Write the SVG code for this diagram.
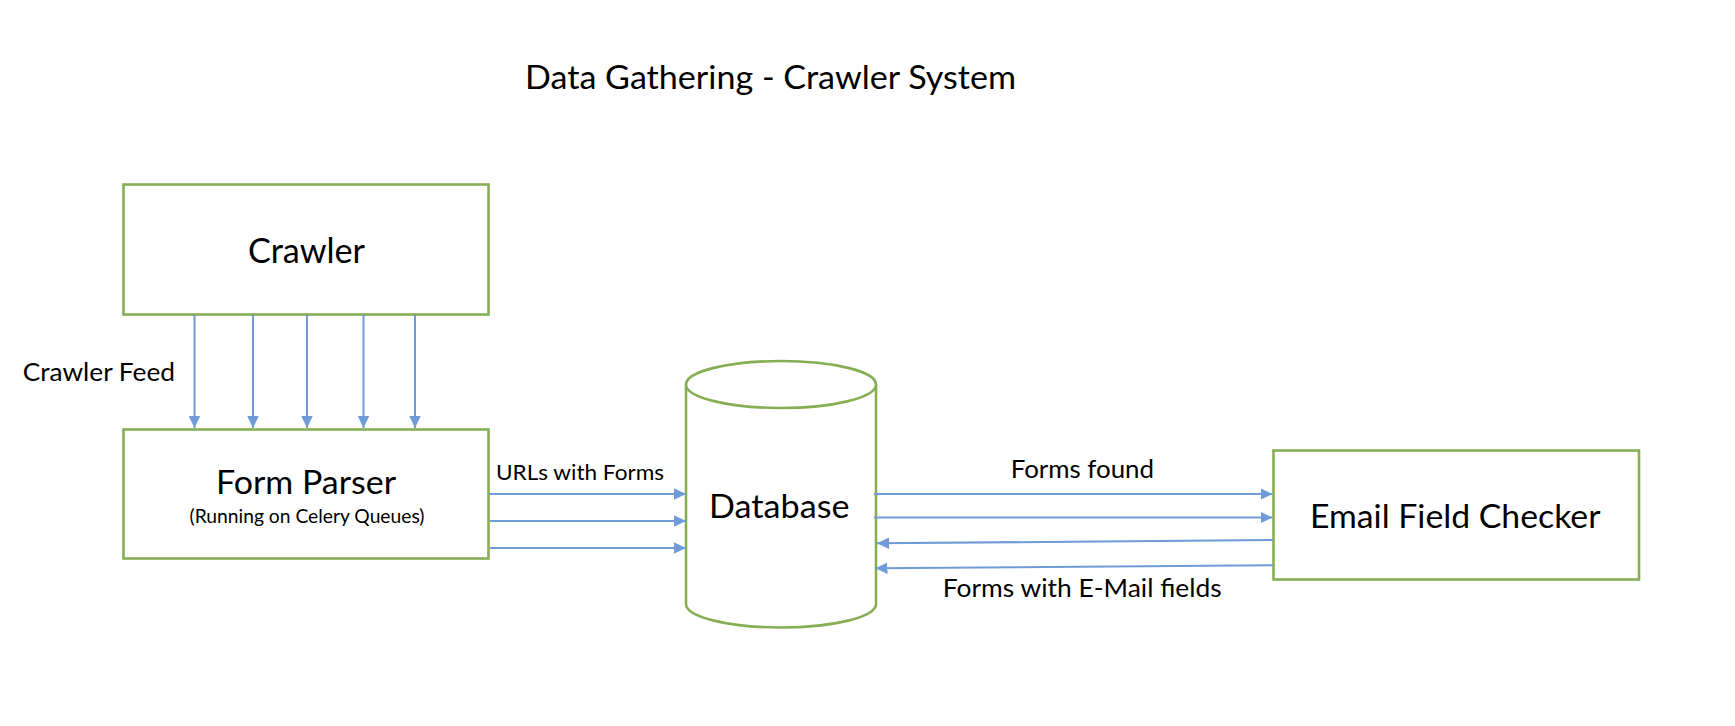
<svg xmlns="http://www.w3.org/2000/svg" width="1735" height="726" viewBox="0 0 1735 726">
<style>
.box{fill:#ffffff;stroke:#86ae54;stroke-width:2.6}
.t{font-family:Lato,"Liberation Sans",sans-serif;fill:#000000}
.c{fill:none;stroke:#6f9bd8;stroke-width:2}
</style>
<defs>
<marker id="ah" markerUnits="userSpaceOnUse" markerWidth="12" markerHeight="12" refX="12" refY="5.75" orient="auto">
<path d="M0,0 L12,5.75 L0,11.5 Z" fill="#6f9bd8"/>
</marker>
</defs>
<rect width="1735" height="726" fill="#ffffff"/>
<text id="title" class="t" x="525" y="89" font-size="33" textLength="491" lengthAdjust="spacingAndGlyphs">Data Gathering - Crawler System</text>
<g id="crawler">
<rect class="box" x="123.5" y="184.5" width="365" height="130"/>
<text class="t" x="248" y="263" font-size="34" textLength="117" lengthAdjust="spacingAndGlyphs">Crawler</text>
</g>
<g id="form-parser">
<rect class="box" x="123.5" y="429.5" width="365" height="129"/>
<text class="t" x="216" y="494" font-size="32.5" textLength="180" lengthAdjust="spacingAndGlyphs">Form Parser</text>
<text class="t" x="189.5" y="523" font-size="19" textLength="235" lengthAdjust="spacingAndGlyphs">(Running on Celery Queues)</text>
</g>
<g id="database">
<path class="box" d="M686,384.5 L686,604 A95,23.5 0 0 0 876,604 L876,384.5"/>
<ellipse class="box" cx="781" cy="384.5" rx="95" ry="23.5"/>
<text class="t" x="709" y="518" font-size="33" textLength="140.5" lengthAdjust="spacingAndGlyphs">Database</text>
</g>
<g id="email-field-checker">
<rect class="box" x="1273.5" y="450.5" width="365.5" height="129"/>
<text class="t" x="1310" y="528" font-size="33" textLength="290.5" lengthAdjust="spacingAndGlyphs">Email Field Checker</text>
</g>
<g id="connectors">
<line class="c" x1="194.5" y1="315" x2="194.5" y2="428" marker-end="url(#ah)"/>
<line class="c" x1="253" y1="315" x2="253" y2="428" marker-end="url(#ah)"/>
<line class="c" x1="307" y1="315" x2="307" y2="428" marker-end="url(#ah)"/>
<line class="c" x1="363.5" y1="315" x2="363.5" y2="428" marker-end="url(#ah)"/>
<line class="c" x1="415" y1="315" x2="415" y2="428" marker-end="url(#ah)"/>
<line class="c" x1="489" y1="494" x2="686" y2="494" marker-end="url(#ah)"/>
<line class="c" x1="490" y1="521" x2="686" y2="521" marker-end="url(#ah)"/>
<line class="c" x1="490" y1="548" x2="686" y2="548" marker-end="url(#ah)"/>
<line class="c" x1="874" y1="494" x2="1272.5" y2="494" marker-end="url(#ah)"/>
<line class="c" x1="874" y1="517.5" x2="1272.5" y2="517.5" marker-end="url(#ah)"/>
<line class="c" x1="1273" y1="540" x2="877" y2="543.3" marker-end="url(#ah)"/>
<line class="c" x1="1273" y1="565.3" x2="875.5" y2="568.3" marker-end="url(#ah)"/>
<text class="t" x="22.7" y="381" font-size="25.5" textLength="152.3" lengthAdjust="spacingAndGlyphs">Crawler Feed</text>
<text class="t" x="496" y="480" font-size="21.5" textLength="168" lengthAdjust="spacingAndGlyphs">URLs with Forms</text>
<text class="t" x="1010.7" y="478.3" font-size="25" textLength="143.3" lengthAdjust="spacingAndGlyphs">Forms found</text>
<text class="t" x="942.7" y="596.7" font-size="25" textLength="279" lengthAdjust="spacingAndGlyphs">Forms with E-Mail fields</text>
</g>
</svg>
